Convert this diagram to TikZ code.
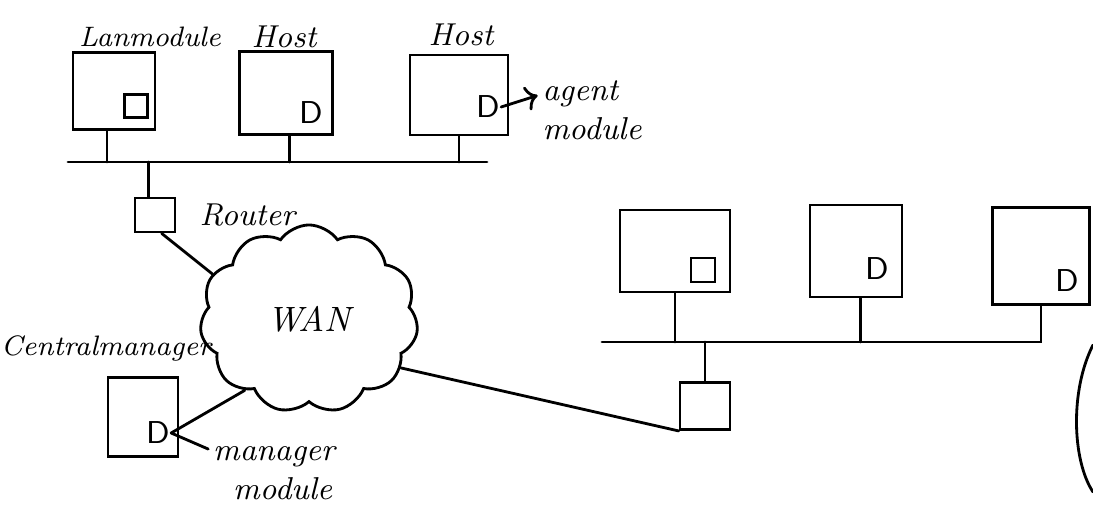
\documentclass[tikz,border=0pt]{standalone}
\usepackage{tikz}
\usetikzlibrary{positioning, arrows.meta, shapes.symbols}

\begin{document}
\begin{tikzpicture}[x=0.01cm, y=-0.01cm, font=\small\itshape, line width=0.8pt, line cap=round,
        host/.style={draw, inner sep=0pt},
        module/.style={draw, minimum size=2.3mm, inner sep=0pt},
        dmod/.style={font=\sffamily\small, inner sep=0pt},
        rtr/.style={draw, inner sep=0pt},
        lbl/.style={align=left, inner sep=1pt}]
        \useasboundingbox (0,0) rectangle (1093,506);
        \node[host, minimum width=8.2mm, minimum height=7.7mm] (lan) at (114,91) {};
        \node[module] (lanm) at (136,106) {};
        \node[host, minimum width=9.3mm, minimum height=8.3mm] (hostb) at (286,93) {};
        \node[dmod] (hostbm) at (311,113) {D};
        \node[host, minimum width=9.8mm, minimum height=8mm] (hostc) at (459,95) {};
        \node[dmod] (hostcm) at (488,107) {D};
        \node[font=\footnotesize\itshape] (lanlbl) at (150,37) {Lanmodule};
        \node (hostblbl) at (284,37) {Host};
        \node (hostclbl) at (461,35) {Host};
        \node[lbl] (amlbl) at (592,110) {agent\\ module};
        \draw[-{To}] (hostcm.east) -- (amlbl.165);
        \coordinate (busa) at (68,162);
        \coordinate (busae) at (487,162);
        \draw (busa) -- (busae);
        \draw (lan.-100) -- (lan.-100 |- busa);
        \draw (hostb.-85) -- (hostb.-85 |- busa);
        \draw (hostc.south) -- (hostc.south |- busa);
        \node[rtr, minimum width=4mm, minimum height=3.4mm] (rtra) at (155,215) {};
        \node[right=1mm of rtra] (rtralbl) {Router};
        \draw (rtra.110) -- (rtra.110 |- busa);
        \node[cloud, draw, cloud puffs=11, cloud puff arc=110, aspect=1.2,
              minimum width=21.8mm, minimum height=18.8mm, font=\normalsize\itshape] (wan) at (309,319) {WAN};
        \draw (rtra.-70) -- (wan.155);
        \node[host, minimum width=7mm, minimum height=7.9mm] (cm) at (143,417) {};
        \node[dmod] (cmm) at (158,433) {D};
        \node[font=\footnotesize\itshape, anchor=east, inner sep=1pt] (cmlbl) at (216,348) {Centralmanager};
        \node[lbl] (mmlbl) at (274,473) {manager\\ \hspace{2mm}module};
        \draw (cmm.east) -- (wan.228);
        \draw (cmm.east) -- (mmlbl.160);
        \node[host, minimum width=11mm, minimum height=8.2mm] (hostd) at (675,251) {};
        \node[module, minimum size=2.4mm] (hostdm) at (703,270) {};
        \node[host, minimum width=9.2mm, minimum height=9.2mm] (hoste) at (856,251) {};
        \node[dmod] (hostem) at (877,269) {D};
        \node[host, minimum width=9.7mm, minimum height=9.7mm] (hostf) at (1041,256) {};
        \node[dmod] (hostfm) at (1067,281) {D};
        \node[rtr, minimum width=5mm, minimum height=4.7mm] (rtrb) at (705,406) {};
        \coordinate (busb) at (602,342);
        \draw (busb) -- (hostf.south |- busb) -- (hostf.south);
        \draw (hostd.south) -- (hostd.south |- busb);
        \draw (hoste.-85) -- (hoste.-85 |- busb);
        \draw (rtrb.north) -- (rtrb.north |- busb);
        \draw (wan.-28) -- (rtrb.south west);
        \draw (1093,345) .. controls (1070,390) and (1072,460) .. (1093,492);
      \end{tikzpicture}
\end{document}
